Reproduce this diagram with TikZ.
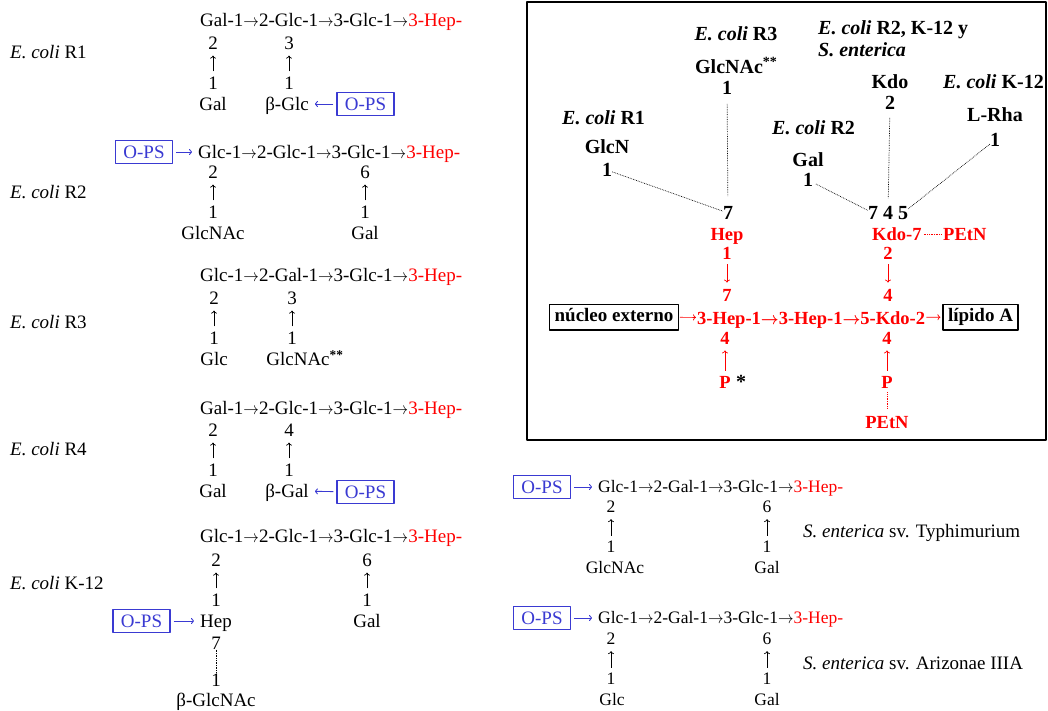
\documentclass[tikz,border=0pt]{standalone}
\usepackage{fontspec}
\setmainfont{Liberation Serif}
\usetikzlibrary{arrows.meta}
\definecolor{opsblue}{RGB}{58,58,210}
\definecolor{corered}{RGB}{255,0,0}
\newcommand{\chainarr}{\scalebox{0.9}[1]{$\rightarrow$}}

\begin{document}
\begin{tikzpicture}[x=1pt,y=-1pt,line join=round,
    every node/.style={inner sep=0pt,text depth=0pt},
    txt/.style={font=\fontsize{19}{22}\selectfont,text height=12.8pt},
    sm/.style={font=\fontsize{17.5}{21}\selectfont,text height=11.8pt},
    bx/.style={font=\bfseries\fontsize{20}{24}\selectfont,text height=13.4pt},
    rd/.style={font=\bfseries\boldmath\fontsize{18.5}{22}\selectfont,text height=12.4pt,text=corered},
    ops/.style={txt,draw=opsblue,line width=1.2pt,text=opsblue,inner xsep=8pt,inner ysep=5pt},
    lbox/.style={font=\bfseries\fontsize{19}{22}\selectfont,text height=12.8pt,text depth=4pt,
      draw,line width=1.2pt,inner xsep=5pt,inner ysep=4.5pt},
    up/.style={-{To[length=3pt,width=6pt]},line width=0.7pt,shorten <=5pt,shorten >=6pt},
    opsarr/.style={-{To[length=3pt,width=6pt]},opsblue,line width=0.9pt,shorten <=3pt,shorten >=6pt},
    link/.style={densely dotted,line width=0.7pt}]
  \useasboundingbox (0,0) rectangle (1048,711);

  % left column: E. coli cores
  \node[txt,anchor=west] (ra) at (200,20) {Gal-1\chainarr2-Glc-1\chainarr3-Glc-1\chainarr\textcolor{corered}{3-Hep-}};
  \node[txt,anchor=west] (rb) at (198,152) {Glc-1\chainarr2-Glc-1\chainarr3-Glc-1\chainarr\textcolor{corered}{3-Hep-}};
  \node[txt,anchor=west] (rc) at (200,275) {Glc-1\chainarr2-Gal-1\chainarr3-Glc-1\chainarr\textcolor{corered}{3-Hep-}};
  \node[txt,anchor=west] (rd) at (200,408) {Gal-1\chainarr2-Glc-1\chainarr3-Glc-1\chainarr\textcolor{corered}{3-Hep-}};
  \node[txt,anchor=west] (re) at (200,536) {Glc-1\chainarr2-Glc-1\chainarr3-Glc-1\chainarr\textcolor{corered}{3-Hep-}};
  \foreach \n/\t/\y in {la/R1/52,lb/R2/192,lc/R3/322,ld/R4/449,le/K-12/583}
    \node[txt,anchor=west] (\n) at (10,\y) {\textit{E. coli} \t};

  % right column: S. enterica cores
  \node[sm,anchor=west] (sa) at (598,487) {Glc-1\chainarr2-Gal-1\chainarr3-Glc-1\chainarr\textcolor{corered}{3-Hep-}};
  \node[sm,anchor=west] (sb) at (598,618) {Glc-1\chainarr2-Gal-1\chainarr3-Glc-1\chainarr\textcolor{corered}{3-Hep-}};
  \node[txt,anchor=west] (ta) at (803,531) {\textit{S. enterica} sv. Typhimurium};
  \node[txt,anchor=west] (tb) at (803,663) {\textit{S. enterica} sv. Arizonae IIIA};

  % side branches
  \foreach \n/\x/\y/\sx/\u/\s/\st in {ra1/213/43/213/2/Gal/txt, ra2/289/43/287/3/β-Glc/txt,
      rb1/213/172/213/2/GlcNAc/txt, rb2/365/172/365/6/Gal/txt,
      rc1/214/298/214/2/Glc/txt, rc2/292/298/298/3/{GlcNAc\rlap{\textsuperscript{\textbf{**}}}}/txt,
      rd1/213/430/213/2/Gal/txt, rd2/289/430/287/4/β-Gal/txt,
      re1/216/560/216/2/Hep/txt, re2/367/560/367/6/Gal/txt,
      sa1/611/507/615/2/GlcNAc/sm, sa2/767/507/767/6/Gal/sm,
      sb1/611/639/612/2/Glc/sm, sb2/767/639/767/6/Gal/sm}{
    \node[\st] (\n u) at (\x,\y) {\u};
    \node[\st] (\n l) at (\x,\y+40) {1};
    \node[\st] (\n s) at (\sx,\y+61) {\s};
    \draw[up] (\n l) -- (\n u);
  }
  \node[txt] (re7) at (216,643) {7};
  \node[txt] (re8) at (216,680) {1};
  \node[txt] (re9) at (216,700) {β-GlcNAc};
  \draw[link] (re7) -- (re8);

  % O-PS attachment points
  \node[ops] (opsa) at (365.5,104) {O-PS};
  \node[ops] (opsb) at (144,152) {O-PS};
  \node[ops] (opsd) at (365.5,492) {O-PS};
  \node[ops] (opse) at (141.5,621) {O-PS};
  \node[ops] (opsf) at (542,487) {O-PS};
  \node[ops] (opsg) at (542,618) {O-PS};
  \draw[opsarr] (opsa) -- (ra2s);
  \draw[opsarr] (opsb) -- (rb);
  \draw[opsarr] (opsd) -- (rd2s);
  \draw[opsarr] (opse) -- (re1s);
  \draw[opsarr] (opsf) -- (sa);
  \draw[opsarr] (opsg) -- (sb);

  % inner core and Kdo region
  \draw[line width=1.5pt] (527,2) rectangle (1046,440);
  \node[bx] (bl3) at (736,34) {\textit{E. coli} R3};
  \node[bx] (gnac) at (729,67) {GlcNAc\rlap{\textsuperscript{**}}};
  \node[bx] (gnac1) at (727,88) {1};
  \node[bx,anchor=west] (bl2) at (818,28) {\textit{E. coli} R2, K-12 y};
  \node[bx,anchor=west] (bls) at (818,50) {\textit{S. enterica}};
  \node[bx] (kdo) at (890,82) {Kdo};
  \node[bx] (kdo2) at (890,103) {2};
  \node[bx,anchor=west] (blk) at (943,82) {\textit{E. coli} K-12};
  \node[bx] (rha) at (995,115) {L-Rha};
  \node[bx] (rha1) at (995,140) {1};
  \node[bx,anchor=west] (bl1) at (562,118) {\textit{E. coli} R1};
  \node[bx] (glcn) at (607,147) {GlcN};
  \node[bx] (glcn1) at (607,170) {1};
  \node[bx,anchor=west] (blr2) at (772,128) {\textit{E. coli} R2};
  \node[bx] (galt) at (808,160) {Gal};
  \node[bx] (galt1) at (808,180) {1};
  \node[bx] (h7) at (728,213) {7};
  \node[bx] (k7) at (873,213) {7};
  \node[bx] (k4) at (888,213) {4};
  \node[bx] (k5) at (903,213) {5};
  \draw[link] (glcn1) -- (h7);
  \draw[link,shorten <=9pt,shorten >=10pt] (gnac1) -- (h7);
  \draw[link,shorten <=3pt] (galt1) -- (k7);
  \draw[link,shorten <=8pt,shorten >=8pt] (kdo2) -- (k4);
  \draw[link] (rha1) -- (k5);

  \node[rd] (hep) at (727,234) {Hep};
  \node[rd] (hep1) at (727,253) {1};
  \node[rd] (hep7) at (727,295) {7};
  \node[rd,anchor=west] (kdo7) at (872,234) {Kdo-7};
  \node[rd,anchor=west] (pe1) at (943,234) {PEtN};
  \node[rd] (kdoa) at (888,253) {2};
  \node[rd] (kdob) at (888,295) {4};
  \draw[up,corered] (hep1) -- (hep7);
  \draw[up,corered] (kdoa) -- (kdob);
  \draw[link,corered,shorten <=2pt,shorten >=2pt] (kdo7) -- (pe1);

  \node[lbox] (nuc) at (614,317) {núcleo externo};
  \node[rd,anchor=west] (core) at (697,318) {3-Hep-1\chainarr3-Hep-1\chainarr5-Kdo-2};
  \node[lbox] (lip) at (980.5,317) {lípido A};
  \draw[up,corered,shorten <=1pt,shorten >=1pt] (nuc) -- (core);
  \draw[up,corered,shorten <=1pt,shorten >=2pt] (core) -- (lip);

  \node[rd] (hep4) at (725,338) {4};
  \node[rd] (pa) at (725,382) {P};
  \node[bx,anchor=west] (pstar) at (736,382) {*};
  \node[rd] (kdoc) at (887,338) {4};
  \node[rd] (pb) at (887,382) {P};
  \node[rd] (pe2) at (887,422) {PEtN};
  \draw[up,corered] (pa) -- (hep4);
  \draw[up,corered] (pb) -- (kdoc);
  \draw[link,corered,shorten <=4pt,shorten >=7pt] (pb) -- (pe2);
\end{tikzpicture}
\end{document}
